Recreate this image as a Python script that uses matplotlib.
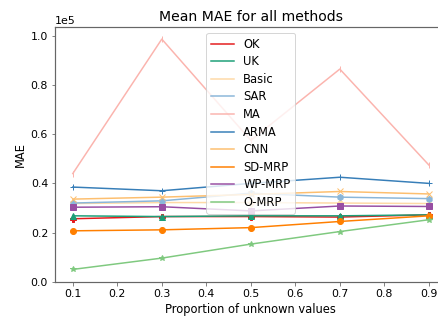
import matplotlib
matplotlib.use("Agg")
import matplotlib.pyplot as plt
from matplotlib.lines import Line2D

# ─── Data (MAE, x 1e5) ───────────────────────────────────────────────────────
PROPORTIONS = [0.1, 0.3, 0.5, 0.7, 0.9]
METHODS = ["OK", "UK", "Basic", "SAR", "MA", "ARMA", "CNN",
           "SD-MRP", "WP-MRP", "O-MRP"]

ok_mae     = [0.256, 0.265, 0.265, 0.263, 0.272]
uk_mae     = [0.268, 0.265, 0.268, 0.268, 0.272]
basic_mae  = [0.318, 0.322, 0.322, 0.320, 0.318]
sar_mae    = [0.320, 0.329, 0.360, 0.344, 0.338]
ma_mae     = [0.440, 0.987, 0.575, 0.865, 0.475]
arma_mae   = [0.385, 0.370, 0.400, 0.425, 0.400]
cnn_mae    = [0.336, 0.344, 0.355, 0.367, 0.357]
sdmrp_mae  = [0.207, 0.211, 0.220, 0.245, 0.268]
wpmrp_mae  = [0.303, 0.305, 0.288, 0.308, 0.306]
omrp_mae   = [0.050, 0.096, 0.153, 0.204, 0.252]

SERIES = [ok_mae, uk_mae, basic_mae, sar_mae, ma_mae, arma_mae, cnn_mae,
          sdmrp_mae, wpmrp_mae, omrp_mae]

# ─── Per-method style ────────────────────────────────────────────────────────
STYLE = {
    "OK":     dict(color="#e41a1c", marker="P"),
    "UK":     dict(color="#1b9e77", marker="^"),
    "Basic":  dict(color="#fed9a6", marker="d"),
    "SAR":    dict(color="#8ab6d9", marker="h"),
    "MA":     dict(color="#fbb4ae", marker="|"),
    "ARMA":   dict(color="#377eb8", marker="+"),
    "CNN":    dict(color="#fdbf6f", marker="x"),
    "SD-MRP": dict(color="#ff7f00", marker="o"),
    "WP-MRP": dict(color="#984ea3", marker="s"),
    "O-MRP":  dict(color="#7fc97f", marker="*"),
}

plt.rcParams.update({
    "font.size":       11.5,
    "axes.titlesize":  14,
    "axes.labelsize":  11.5,
    "xtick.labelsize": 11,
    "ytick.labelsize": 11,
    "legend.fontsize": 11.5,
})

SPINE = "#666666"

fig = plt.figure(figsize=(438 / 72, 320 / 72), dpi=72)
ax = fig.add_axes([55 / 438, 38.3 / 320, 391.6 / 438, 254.4 / 320])

handles = []
for name, vals in zip(METHODS, SERIES):
    ax.plot(PROPORTIONS, [v * 1e5 for v in vals], lw=1.5, ms=6, **STYLE[name])
    handles.append(Line2D([], [], color=STYLE[name]["color"], lw=1.5, label=name))

ax.set_ylim(0, 1.035e5)
ax.set_xticks([0.1, 0.2, 0.3, 0.4, 0.5, 0.6, 0.7, 0.8, 0.9])
ax.ticklabel_format(style="sci", axis="y", scilimits=(0, 0))
ax.set_xlabel("Proportion of unknown values")
ax.set_ylabel("MAE")
ax.set_title("Mean MAE for all methods")

for s in ax.spines.values():
    s.set_color(SPINE)
    s.set_linewidth(1.2)
ax.tick_params(color=SPINE)

ax.legend(handles=handles, loc="upper center", framealpha=0.8, labelspacing=0.4)

fig.savefig("out.png", dpi=72)
